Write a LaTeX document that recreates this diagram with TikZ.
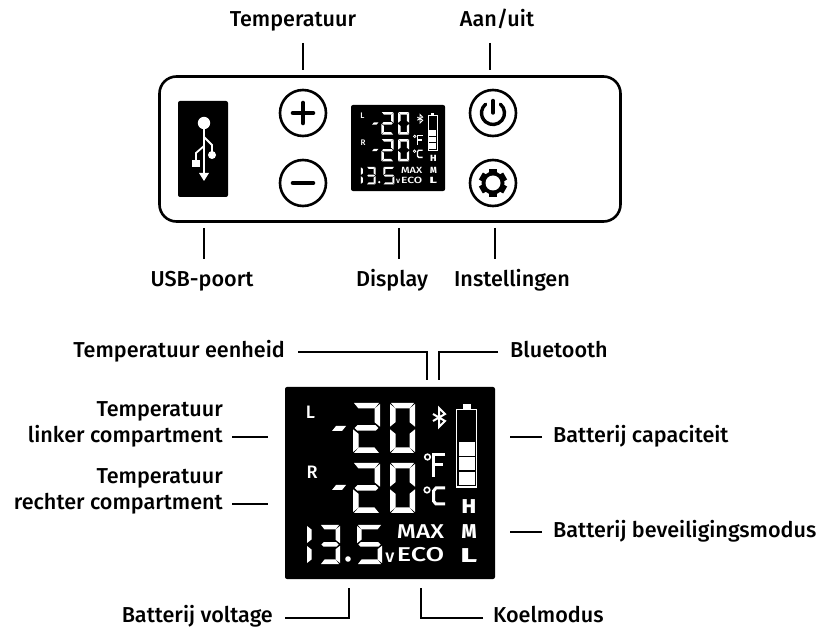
\documentclass[tikz,border=0pt]{standalone}
\usepackage{fontspec}
\setmainfont{Fira Sans}[UprightFont=* Medium]
\newcommand{\lcdsize}{1}
% segments: top, bottom, middle, left, right
\newcommand{\tseg}[4]{\fill[white] ({#1+1},{#2}) -- ({#1+#3-1},{#2}) -- ({#1+#3-#4},{#2+#4}) -- ({#1+#4},{#2+#4}) -- cycle;}
\newcommand{\bseg}[4]{\fill[white] ({#1+1},{#2+#4}) -- ({#1+#3-1},{#2+#4}) -- ({#1+#3-#4},{#2}) -- ({#1+#4},{#2}) -- cycle;}
\newcommand{\mseg}[4]{\fill[white] ({#1+0.8*#4},{#2}) -- ({#1+#3-0.8*#4},{#2}) -- ({#1+#3-0.3*#4},{#2+0.5*#4}) -- ({#1+#3-0.8*#4},{#2+#4}) -- ({#1+0.8*#4},{#2+#4}) -- ({#1+0.3*#4},{#2+0.5*#4}) -- cycle;}
\newcommand{\lseg}[4]{\fill[white] ({#1},{#2+1}) -- ({#1+#4},{#2+#4}) -- ({#1+#4},{#2+#3-#4}) -- ({#1},{#2+#3-1}) -- cycle;}
\newcommand{\rseg}[4]{\fill[white] ({#1+#4},{#2+1}) -- ({#1},{#2+#4}) -- ({#1},{#2+#3-#4}) -- ({#1+#4},{#2+#3-1}) -- cycle;}
\newcommand{\digitseg}[5]{%
 \def\dx{#1}\def\dy{#2}\def\dw{#3}\def\dh{#4}\def\dt{#5}\digitsegb}
\newcommand{\digitsegb}[7]{%
 \pgfmathsetmacro{\hh}{0.5*\dh-0.3}
 \pgfmathsetmacro{\ly}{\dy+0.5*\dh+0.3}
 \pgfmathsetmacro{\my}{\dy+0.5*\dh-0.5*\dt}
 \pgfmathsetmacro{\by}{\dy+\dh-\dt}
 \pgfmathsetmacro{\rx}{\dx+\dw-\dt}
 \ifnum#1=1 \tseg{\dx}{\dy}{\dw}{\dt}\fi
 \ifnum#2=1 \rseg{\rx}{\dy}{\hh}{\dt}\fi
 \ifnum#3=1 \rseg{\rx}{\ly}{\hh}{\dt}\fi
 \ifnum#4=1 \bseg{\dx}{\by}{\dw}{\dt}\fi
 \ifnum#5=1 \lseg{\dx}{\ly}{\hh}{\dt}\fi
 \ifnum#6=1 \lseg{\dx}{\dy}{\hh}{\dt}\fi
 \ifnum#7=1 \mseg{\dx}{\my}{\dw}{\dt}\fi
}
\newcommand{\lcdpanel}{%
 \fill[black,rounded corners=2] (0,0) rectangle (210,192);
 \fill[white] (47,44) -- (57,44) -- (61,39) -- (51,39) -- cycle;
 \digitseg{68}{16}{27}{50}{5.5}{1}{1}{0}{1}{1}{0}{1}
 \digitseg{105}{16}{25}{50}{5.5}{1}{1}{1}{1}{1}{1}{0}
 \fill[white] (47,103) -- (57,103) -- (61,98) -- (51,98) -- cycle;
 \digitseg{68}{76}{27}{50}{5.5}{1}{1}{0}{1}{1}{0}{1}
 \digitseg{105}{76}{25}{50}{5.5}{1}{1}{1}{1}{1}{1}{0}
 \lseg{22}{138}{19}{4.5}\lseg{22}{158}{19}{4.5}
 \digitseg{35}{138}{20}{39}{4.5}{1}{1}{1}{1}{0}{0}{1}
 \fill[white] (63,172) circle (2.8);
 \digitseg{72}{138}{25}{39}{4.5}{1}{0}{1}{1}{0}{1}{1}
 \draw[white,line width={2*\lcdsize},line join=miter] (148,27) -- (160,34) -- (154,40) -- (154,21) -- (160,27) -- (148,34);
 \draw[white,line width={1.2*\lcdsize}] (171.5,22.5) rectangle (191.5,100);
 \fill[white] (178,17) rectangle (186,22);
 \fill[white] (173.5,55) rectangle (190,69);
 \fill[white] (173.5,70.5) rectangle (190,83.5);
 \fill[white] (173.5,85) rectangle (190,98);
 \draw[white,line width={1.6*\lcdsize}] (142.5,70) circle (2.8);
 \draw[white,line width={3*\lcdsize}] (160,68) -- (148.5,68) -- (148.5,90) (148.5,78) -- (158,78);
 \draw[white,line width={1.6*\lcdsize}] (142,103) circle (2.8);
 \draw[white,line width={3*\lcdsize}] (160,101) -- (151,101) -- (148.5,104) -- (148.5,114) -- (151,117) -- (160,117);
 \node[lcdtext,scale=\lcdsize] at (25.5,25) {L};
 \node[lcdtext,scale=\lcdsize] at (27,85) {R};
 \node[lcdtext,scale=\lcdsize] at (105,171) {v};
 \node[lcdmed,xscale={1.22*\lcdsize},yscale=\lcdsize] at (135.5,145) {MAX};
 \node[lcdmed,xscale={1.35*\lcdsize},yscale=\lcdsize] at (135.5,168) {ECO};
 \node[lcdbold,xscale={1.1*\lcdsize},yscale=\lcdsize] at (184,120) {H};
 \node[lcdbold,xscale={0.95*\lcdsize},yscale=\lcdsize] at (184,145) {M};
 \node[lcdbold,xscale={1.6*\lcdsize},yscale=\lcdsize] at (184,168.5) {L};
}
\tikzset{
 lbl/.style={font=\fontsize{21.6}{26}\selectfont,text=black,inner sep=0pt},
 lcdtext/.style={font=\fontsize{18}{18}\selectfont,text=white,inner sep=0pt},
 lcdmed/.style={font=\fontsize{20}{20}\selectfont,text=white,inner sep=0pt},
 lcdbold/.style={font=\fontsize{20}{20}\selectfont\bfseries,text=white,inner sep=0pt},
 con/.style={draw=black,line width=2pt},
 btn/.style={draw=black,line width=2.6pt,fill=white,circle,minimum size=46pt,inner sep=0pt},
}
\begin{document}
\begin{tikzpicture}[x=1pt,y=-1pt,line cap=butt]
\useasboundingbox (0,0) rectangle (823,628);
\fill[white] (0,0) rectangle (823,628);
\node[draw=black,line width=2.6pt,rounded corners=17pt,minimum width=461pt,minimum height=145pt,inner sep=0pt] (panel) at (390,149) {};
\node[fill=black,rounded corners=2pt,minimum width=50pt,minimum height=96pt,inner sep=0pt] (usb) at (203,149) {};
\fill[white] (204,123) circle (6.2);
\draw[white,line width=1.8] (204,125) -- (204,174);
\fill[white] (199,173) -- (209,173) -- (204,181) -- cycle;
\draw[white,line width=1.8] (204,137) -- (212,145) -- (212,152);
\fill[white] (212,155) circle (4);
\draw[white,line width=1.8] (204,146) -- (196,153) -- (196,161);
\fill[white] (192,160) rectangle (199.5,167.5);
\node[btn] (plus) at (303,113) {};
\node[btn] (minus) at (303,183) {};
\node[btn] (power) at (493,113) {};
\node[btn] (gear) at (493,183) {};
\draw[line width=4.6pt,line cap=round] (293,113) -- (313,113) (303,103) -- (303,123);
\draw[line width=4.6pt,line cap=round] (293,183) -- (313,183);
\draw[line width=3.4pt,line cap=round] (500.4,104.2) arc[start angle=-50,end angle=230,radius=11.5];
\draw[line width=3.4pt,line cap=round] (493,100.5) -- (493,113);
\fill[black] (493,183) circle (11.5);
\foreach \a in {0,60,...,300} \fill[black,rotate around={\a:(493,183)}] (489,169) rectangle (497,176);
\fill[white] (493,183) circle (7.5);
\begin{scope}[shift={(351,105)},x=0.448pt,y=-0.448pt]
\def\lcdsize{0.448}
\lcdpanel
\end{scope}
\begin{scope}[shift={(285,387)},x=1pt,y=-1pt]
\lcdpanel
\end{scope}
\node[lbl,anchor=base] (ltemp) at (293,27) {Temperatuur};
\node[lbl,anchor=base] (laan) at (497,27) {Aan/uit};
\node[lbl,anchor=base] (lusb) at (202,287) {USB-poort};
\node[lbl,anchor=base] (ldisp) at (392,287) {Display};
\node[lbl,anchor=base] (linst) at (512,287) {Instellingen};
\coordinate (c1a) at (303,43); \coordinate (c1b) at (303,70);
\coordinate (c2a) at (490,43); \coordinate (c2b) at (490,70);
\coordinate (c3a) at (204,228); \coordinate (c3b) at (204,259);
\coordinate (c4a) at (399,228); \coordinate (c4b) at (399,259);
\coordinate (c5a) at (495,228); \coordinate (c5b) at (495,259);
\foreach \p in {1,...,5} \draw[con] (c\p a) -- (c\p b);
\node[lbl,anchor=base east] (leen) at (285,358) {Temperatuur eenheid};
\node[lbl,anchor=base west] (lblu) at (510,358) {Bluetooth};
\node[lbl,anchor=base east] (lli1) at (223,417) {Temperatuur};
\node[lbl,anchor=base east] (lli2) at (223,443) {linker compartment};
\node[lbl,anchor=base east] (lre1) at (223,484) {Temperatuur};
\node[lbl,anchor=base east] (lre2) at (223,510) {rechter compartment};
\node[lbl,anchor=base west] (lcap) at (553,443) {Batterij capaciteit};
\node[lbl,anchor=base west] (lbev) at (553,538) {Batterij beveiligingsmodus};
\node[lbl,anchor=base east] (lvol) at (273,622.5) {Batterij voltage};
\node[lbl,anchor=base west] (lkoe) at (493,622.5) {Koelmodus};
\coordinate (e1) at (427,380); \coordinate (e2) at (439,380);
\coordinate (e3) at (268,437); \coordinate (e4) at (268,504);
\coordinate (e5) at (510,437); \coordinate (e6) at (510,532);
\coordinate (e7) at (349,588); \coordinate (e8) at (421,588);
\draw[con] ([xshift=13pt,yshift=6pt]leen.base east) -| (e1);
\draw[con] ([xshift=-12pt,yshift=6pt]lblu.base west) -| (e2);
\draw[con] ([xshift=9pt,yshift=6pt]lli2.base east) -- (e3);
\draw[con] ([xshift=9pt,yshift=6pt]lre2.base east) -- (e4);
\draw[con] ([xshift=-11pt,yshift=6pt]lcap.base west) -- (e5);
\draw[con] ([xshift=-11pt,yshift=6pt]lbev.base west) -- (e6);
\draw[con] ([xshift=12pt,yshift=4.5pt]lvol.base east) -| (e7);
\draw[con] ([xshift=-10pt,yshift=4.5pt]lkoe.base west) -| (e8);
\end{tikzpicture}
\end{document}
